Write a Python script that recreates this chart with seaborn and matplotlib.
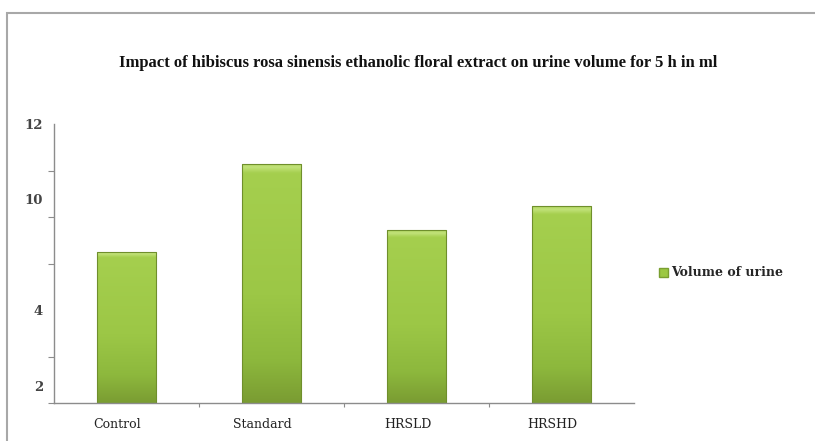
import numpy as np
import pandas as pd
import matplotlib
matplotlib.use("Agg")
import matplotlib.pyplot as plt
import matplotlib.transforms as mtransforms
import seaborn as sns
from matplotlib.patches import Patch, Rectangle
from matplotlib.colors import LinearSegmentedColormap

# ---- data ----
categories = ["Control", "Standard", "HRSLD", "HRSHD"]
urine_volume = [6.5, 10.3, 7.42, 8.47]
series_name = "Volume of urine"
title = "Impact of hibiscus rosa sinensis ethanolic floral extract on urine volume for 5 h in ml"
ytick_values = [0.73, 4, 8.77, 12]
ytick_labels = ["2", "4", "10", "12"]
ygrid_marks = [0, 2, 4, 6, 8, 10, 12]

df = pd.DataFrame({"group": categories, "volume": urine_volume})

sns.set_theme(style="white")
plt.rcParams["font.family"] = ["DejaVu Serif", "DejaVu Sans"]

W, H = 815, 441
fig = plt.figure(figsize=(W / 100, H / 100), dpi=100)
ax = fig.add_axes([54 / W, 38 / H, 580 / W, 279 / H])

sns.barplot(data=df, x="group", y="volume", color="#9cc843", width=0.41,
            saturation=1, ax=ax, edgecolor="#6f8f2c", linewidth=0.8)

# gradient fill for the bars
cmap = LinearSegmentedColormap.from_list(
    "g", [(0.0, "#7a9c32"), (0.18, "#8db83d"), (0.45, "#9cc746"),
          (0.96, "#a5cf4e"), (0.985, "#c2e27a"), (1.0, "#b0d660")])
grad = np.linspace(0, 1, 256).reshape(-1, 1)
for p in list(ax.patches):
    x0, y0 = p.get_x(), p.get_y()
    w, h = p.get_width(), p.get_height()
    im = ax.imshow(grad, extent=[x0, x0 + w, y0, y0 + h], origin="lower",
                   cmap=cmap, aspect="auto", zorder=p.get_zorder() + 0.1,
                   interpolation="bilinear")
    im.set_clip_path(p)
    p.set_zorder(p.get_zorder() + 0.2)
    p.set_facecolor("none")
ax.set_xlim(-0.5, len(categories) - 0.5)
ax.set_ylim(0, 12)

ax.set_xlabel("")
ax.set_ylabel("")
for s in ["top", "right"]:
    ax.spines[s].set_visible(False)
for s in ["left", "bottom"]:
    ax.spines[s].set_color("#8c8c8c")
    ax.spines[s].set_linewidth(1.0)

ax.set_yticks(ytick_values)
ax.set_yticklabels(ytick_labels)
ax.set_yticks(ygrid_marks, minor=True)
ax.tick_params(axis="y", which="major", length=0, pad=8, labelsize=9.5,
               labelcolor="#444444")
ax.tick_params(axis="y", which="minor", left=True, length=4, width=0.8,
               color="#8c8c8c", direction="out")
for t in ax.get_yticklabels():
    t.set_fontweight("bold")

ax.set_xticks(range(len(categories)))
ax.set_xticklabels(categories)
ax.set_xticks([0.5, 1.5, 2.5], minor=True)
ax.tick_params(axis="x", which="major", length=0, pad=11, labelsize=9,
               labelcolor="#222222")
ax.tick_params(axis="x", which="minor", bottom=True, length=3, width=0.8,
               color="#8c8c8c", direction="out")
shift = mtransforms.ScaledTranslation(-9 / 100, 0, fig.dpi_scale_trans)
for t in ax.get_xticklabels():
    t.set_transform(t.get_transform() + shift)

ax.legend(handles=[Patch(facecolor="#9cc843", edgecolor="#7a9f30", label=series_name)],
          loc="center left", bbox_to_anchor=(648 / W, 1 - 273 / H),
          bbox_transform=fig.transFigure, frameon=False,
          handlelength=0.7, handleheight=0.7, handletextpad=0.25,
          prop={"family": "DejaVu Serif", "size": 9, "weight": "bold"})

fig.text(418 / W, 1 - 63 / H, title, ha="center", va="center",
         fontsize=12, fontweight="bold", family=["Liberation Serif"],
         color="#111111")

fig.add_artist(Rectangle((7 / W, -0.05), 1.1, (1 - 13 / H) + 0.05,
                         transform=fig.transFigure, fill=False,
                         edgecolor="#a8a8a8", linewidth=1.5))

fig.savefig("out.png", dpi=100)
